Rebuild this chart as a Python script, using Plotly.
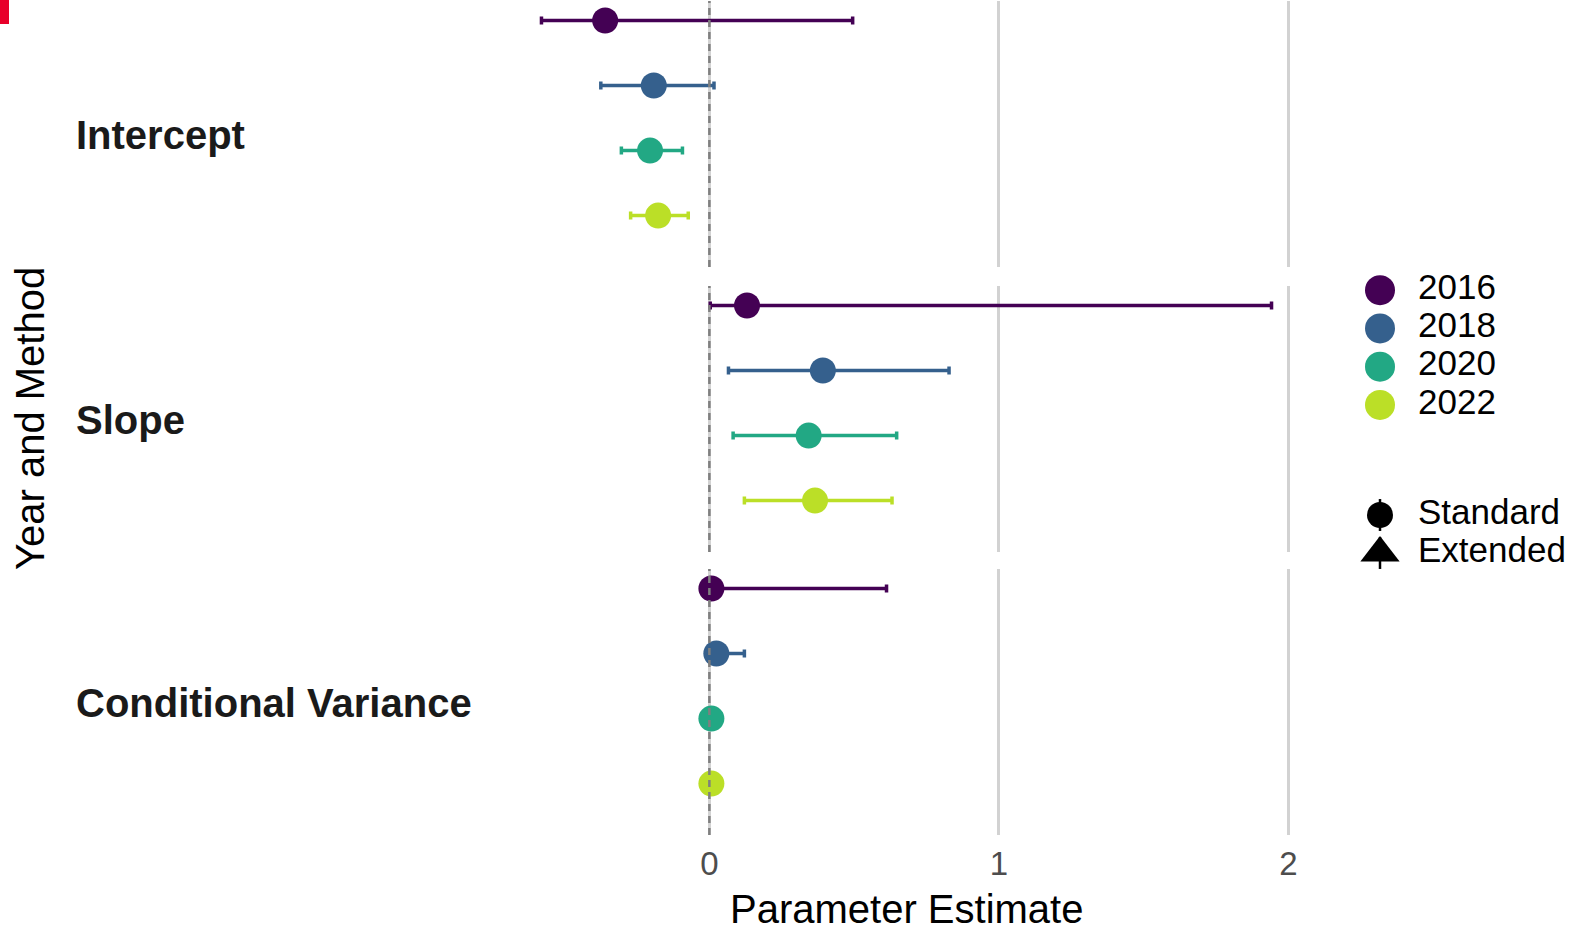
import plotly.graph_objects as go

# ---------------- data ----------------
PARAMS = ["Intercept", "Slope", "Conditional Variance"]
YEARS = ["2016", "2018", "2020", "2022"]
METHODS = ["Standard", "Extended"]
METHOD_SYMBOLS = ["circle", "triangle-up"]
YEAR_COLORS = ["#440154", "#35608D", "#22A884", "#BBDF27"]

intercept_est = [-0.360, -0.192, -0.205, -0.177]
intercept_lo = [-0.580, -0.375, -0.304, -0.272]
intercept_hi = [0.495, 0.016, -0.093, -0.073]

slope_est = [0.130, 0.392, 0.343, 0.365]
slope_lo = [0.003, 0.066, 0.082, 0.121]
slope_hi = [1.942, 0.828, 0.647, 0.631]

var_est = [0.007, 0.024, 0.007, 0.007]
var_lo = [0.000, 0.002, 0.003, 0.004]
var_hi = [0.612, 0.121, 0.012, 0.011]

REF_LINE = 0.0

panels = [
    (intercept_est, intercept_lo, intercept_hi),
    (slope_est, slope_lo, slope_hi),
    (var_est, var_lo, var_hi),
]

W, H = 1578, 930
FONT = "Liberation Sans, Arial, sans-serif"


def px_x(p):
    return p / W


def px_y(p):
    return 1 - p / H


fig = go.Figure()

# ---------------- panels ----------------
for k, (est, lo, hi) in enumerate(panels, start=1):
    xa = "x" if k == 1 else f"x{k}"
    ya = "y" if k == 1 else f"y{k}"
    for j, yr in enumerate(YEARS):
        fig.add_trace(go.Scatter(
            x=[est[j]], y=[yr], xaxis=xa, yaxis=ya, mode="markers",
            marker=dict(color=YEAR_COLORS[j], size=26, line=dict(width=0)),
            error_x=dict(type="data", symmetric=False,
                         array=[hi[j] - est[j]], arrayminus=[est[j] - lo[j]],
                         color=YEAR_COLORS[j], thickness=3.5, width=4),
            showlegend=False, hoverinfo="x+y",
        ))

# ---------------- custom legend (years) ----------------
fig.add_trace(go.Scatter(
    x=[0] * len(YEARS), y=YEARS, xaxis="x4", yaxis="y4", mode="markers",
    marker=dict(color=YEAR_COLORS, size=30, line=dict(width=0)),
    showlegend=False, hoverinfo="skip",
))
fig.add_trace(go.Scatter(
    x=[1] * len(YEARS), y=YEARS, xaxis="x4", yaxis="y4", mode="text",
    text=YEARS, textposition="middle right",
    textfont=dict(family=FONT, size=35, color="#000000"),
    showlegend=False, hoverinfo="skip",
))
# ---------------- custom legend (methods) ----------------
method_idx = list(range(len(METHODS)))
fig.add_trace(go.Scatter(
    x=[0] * len(METHODS), y=method_idx, xaxis="x4", yaxis="y5", mode="markers",
    marker=dict(color="#000000", size=[26, 34], symbol=METHOD_SYMBOLS,
                line=dict(width=0), opacity=1),
    error_y=dict(type="constant", value=0.42, color="#000000", thickness=2.5, width=0),
    showlegend=False, hoverinfo="skip",
))
fig.add_trace(go.Scatter(
    x=[1] * len(METHODS), y=method_idx, xaxis="x4", yaxis="y5", mode="text",
    text=METHODS, textposition="middle right",
    textfont=dict(family=FONT, size=35, color="#000000"),
    showlegend=False, hoverinfo="skip",
))

# ---------------- axes ----------------
x_dom = [px_x(505), px_x(1308)]
x_rng = [-0.706, 2.068]
y_doms = [
    [px_y(267), px_y(1)],
    [px_y(552), px_y(286)],
    [px_y(835), px_y(569)],
]
layout_axes = {}
for k in range(1, 4):
    xn = "xaxis" if k == 1 else f"xaxis{k}"
    yn = "yaxis" if k == 1 else f"yaxis{k}"
    layout_axes[xn] = dict(
        domain=x_dom, range=x_rng, anchor="y" if k == 1 else f"y{k}",
        showgrid=True, gridcolor="#D2D2D2", gridwidth=3, dtick=1, tick0=0,
        zeroline=False, showline=False, ticks="",
        showticklabels=(k == 3),
        tickfont=dict(family=FONT, size=33, color="#4D4D4D"),
        ticklabelstandoff=6,
    )
    layout_axes[yn] = dict(
        domain=y_doms[k - 1], type="category", categoryarray=YEARS,
        categoryorder="array", range=[3.79, -0.3],
        anchor="x" if k == 1 else f"x{k}",
        showgrid=False, showticklabels=False, zeroline=False, showline=False, ticks="",
    )

layout_axes["xaxis4"] = dict(domain=[px_x(1340), 1.0],
                             range=[-40 / 38, (1578 - 1380) / 38],
                             anchor="y4", visible=False)
layout_axes["yaxis4"] = dict(domain=[px_y(424), px_y(271)], type="category",
                             categoryarray=YEARS, categoryorder="array",
                             range=[3.5, -0.5], anchor="x4", visible=False)
layout_axes["yaxis5"] = dict(domain=[px_y(572), px_y(496)], type="linear",
                             range=[1.5, -0.5], anchor="x4", visible=False)

fig.update_layout(**layout_axes)

# ---------------- reference lines ----------------
shapes = []
for k in range(1, 4):
    xr = "x" if k == 1 else f"x{k}"
    yr = "y domain" if k == 1 else f"y{k} domain"
    shapes.append(dict(type="line", xref=xr, yref=yr, x0=REF_LINE, x1=REF_LINE,
                       y0=0, y1=1, line=dict(color="#7F7F7F", width=2.5, dash="7px,5px"),
                       layer="above"))
shapes.append(dict(type="rect", xref="paper", yref="paper", x0=0, x1=px_x(9),
                   y0=px_y(24), y1=1, fillcolor="#E8002A", line=dict(width=0)))

# ---------------- annotations ----------------
ann = []
centers = [135, 420, 703]
for name, c in zip(PARAMS, centers):
    ann.append(dict(text=f"<b>{name}</b>", xref="paper", yref="paper",
                    x=px_x(74), y=px_y(c), xanchor="left", yanchor="middle",
                    showarrow=False, font=dict(family=FONT, size=40, color="#1A1A1A")))
ann.append(dict(text="Year and Method", xref="paper", yref="paper",
                x=px_x(30), y=px_y(419), xanchor="center", yanchor="middle",
                textangle=-90, showarrow=False,
                font=dict(family=FONT, size=40, color="#000000")))
ann.append(dict(text="Parameter Estimate", xref="paper", yref="paper",
                x=px_x(906.5), y=px_y(909), xanchor="center", yanchor="middle",
                showarrow=False, font=dict(family=FONT, size=40, color="#000000")))

fig.update_layout(
    width=W, height=H,
    margin=dict(l=0, r=0, t=0, b=0),
    paper_bgcolor="white", plot_bgcolor="white",
    shapes=shapes, annotations=ann,
    showlegend=False,
    font=dict(family=FONT),
)

fig.write_html(
    "out.html",
    config={"displayModeBar": False},
    post_script="document.body.style.margin='0';document.body.style.padding='0';"
                "document.body.style.overflow='hidden';",
)
